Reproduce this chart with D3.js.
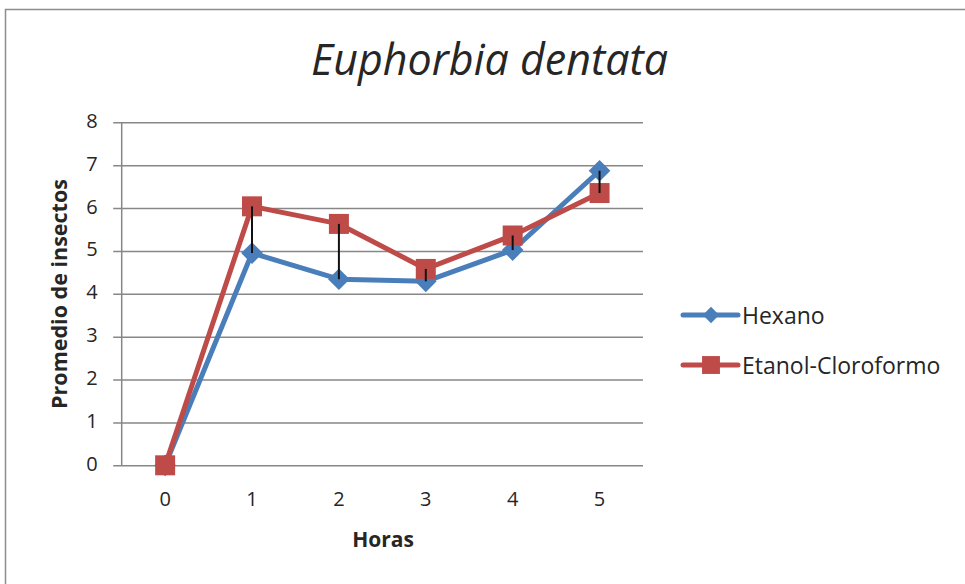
<!DOCTYPE html>
<html><head><meta charset="utf-8">
<script src="https://cdn.jsdelivr.net/npm/d3@7"></script>
<style>
html,body{margin:0;padding:0;background:#fff;}
svg{display:block;}
text{font-family:"Open Sans",sans-serif;fill:#262626;}
</style></head>
<body>
<svg id="chart" width="965" height="584"></svg>
<script>
const categories = ["0","1","2","3","4","5"];
const hexano = [0, 4.95, 4.34, 4.29, 5.02, 6.87];
const etanol = [0, 6.04, 5.63, 4.58, 5.36, 6.35];
const seriesNames = ["Hexano", "Etanol-Cloroformo"];
const yTicks = [0,1,2,3,4,5,6,7,8];

const svg = d3.select("#chart");
const blue = "#4A7EBB", red = "#BE4B48";
const FONT = "Open Sans";

// outer frame
svg.append("rect").attr("x",5.5).attr("y",9.5).attr("width",1000).attr("height",1000)
  .attr("fill","#fff").attr("stroke","#8c8c8c").attr("stroke-width",1.5);

const L = 121.7, R = 643, T = 122.3, B = 465.3;
const x = d3.scaleBand().domain(categories).range([L, R]);
const y = d3.scaleLinear().domain([0, 8]).range([B, T]);
const cx = c => x(c) + x.bandwidth()/2;

// gridlines + y axis
const yAxis = d3.axisLeft(y).tickValues(yTicks).tickSize(-(R - L)).tickPadding(16).tickSizeOuter(0);
const gy = svg.append("g").attr("transform",`translate(${L},0)`).call(yAxis);
gy.select(".domain").remove();
gy.selectAll(".tick line").attr("stroke","#878787").attr("stroke-width",1.5).attr("x1",-8.5);
gy.selectAll(".tick text").attr("font-size",20).attr("fill","#262626").attr("x",-24)
  .attr("dy","0.25em").style("font-family",FONT);
svg.append("line").attr("x1",L).attr("x2",L).attr("y1",T).attr("y2",B)
  .attr("stroke","#878787").attr("stroke-width",1.5);

// x axis labels
const xAxis = d3.axisBottom(x).tickSize(0).tickPadding(27);
const gx = svg.append("g").attr("transform",`translate(0,${B})`).call(xAxis);
gx.select(".domain").remove();
gx.selectAll(".tick text").attr("font-size",20).attr("fill","#262626").style("font-family",FONT);

const line = d3.line().x((d,i) => cx(categories[i])).y(d => y(d));
const dType = d3.symbolDiamond2 || d3.symbolDiamond;
const diamond = d3.symbol().type(dType).size(300);
const square = d3.symbol().type(d3.symbolSquare).size(400);

// Hexano
svg.append("path").datum(hexano).attr("d", line).attr("fill","none")
  .attr("stroke",blue).attr("stroke-width",5).attr("stroke-linejoin","round");
svg.append("g").selectAll("path").data(hexano).join("path")
  .attr("transform",(d,i)=>`translate(${cx(categories[i])},${y(d)})`)
  .attr("d", diamond()).attr("fill",blue);

// Etanol
svg.append("path").datum(etanol).attr("d", line).attr("fill","none")
  .attr("stroke",red).attr("stroke-width",5).attr("stroke-linejoin","round");
svg.append("g").selectAll("path").data(etanol).join("path")
  .attr("transform",(d,i)=>`translate(${cx(categories[i])},${y(d)})`)
  .attr("d", square()).attr("fill",red);

// high-low lines on top
svg.append("g").selectAll("line").data(categories).join("line")
  .attr("x1", c => cx(c)).attr("x2", c => cx(c))
  .attr("y1", (c,i) => y(Math.max(hexano[i], etanol[i])))
  .attr("y2", (c,i) => y(Math.min(hexano[i], etanol[i])))
  .attr("stroke","#111").attr("stroke-width",2);

// title
svg.append("text").attr("x",489.5).attr("y",75).attr("text-anchor","middle")
  .attr("font-size",43).attr("font-style","italic").text("Euphorbia dentata");

// axis titles
svg.append("text").attr("x",383).attr("y",547).attr("text-anchor","middle")
  .attr("font-size",21).attr("font-weight","bold").text("Horas");
svg.append("text").attr("transform","translate(67,294) rotate(-90)").attr("text-anchor","middle")
  .attr("font-size",21.5).attr("font-weight","bold").text("Promedio de insectos");

// legend
const lg = svg.append("g");
const leg = [{n:seriesNames[0], c:blue, s:d3.symbol().type(dType).size(170)(), y:315},
             {n:seriesNames[1], c:red, s:d3.symbol().type(d3.symbolSquare).size(320)(), y:365}];
leg.forEach(o => {
  lg.append("line").attr("x1",683).attr("x2",738).attr("y1",o.y).attr("y2",o.y)
    .attr("stroke",o.c).attr("stroke-width",5).attr("stroke-linecap","round");
  lg.append("path").attr("d",o.s).attr("transform",`translate(711,${o.y})`).attr("fill",o.c);
  lg.append("text").attr("x",742).attr("y",o.y+9).attr("font-size",23).text(o.n);
});
</script>
</body></html>
